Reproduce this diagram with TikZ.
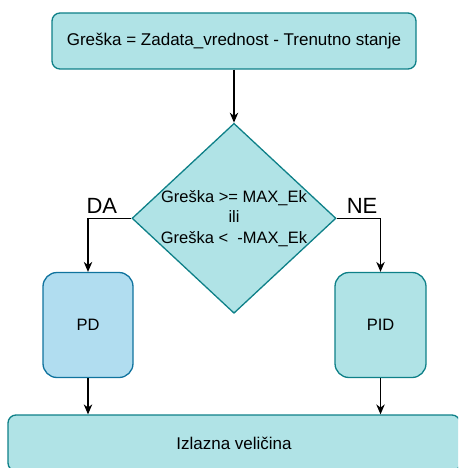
\documentclass[tikz,border=0pt]{standalone}
\usepackage{fontspec}
\setmainfont{Liberation Sans}
\usepackage{xcolor}
\usepackage{tikz}
\usetikzlibrary{shapes,arrows.meta,positioning}
\definecolor{tealfill}{HTML}{B0E3E6}
\definecolor{tealline}{HTML}{0E8088}
\definecolor{bluefill}{HTML}{B1DDF0}
\definecolor{blueline}{HTML}{10739E}
\tikzset{>={Stealth[length=10pt,width=8.5pt]}}
\tikzset{step box/.style={rectangle,rounded corners=8pt,fill=tealfill,draw=tealline,line width=1.3pt,
            minimum width=364pt,minimum height=56pt,font=\fontsize{17}{20}\selectfont},
         cond node/.style={diamond,fill=tealfill,draw=tealline,line width=1.3pt,inner sep=-4pt,
            minimum width=204pt,minimum height=190pt,align=center,font=\fontsize{16.5}{20.5}\selectfont},
         ctrl box/.style={rectangle,rounded corners=14pt,fill=tealfill,draw=tealline,line width=1.3pt,
            minimum width=91pt,minimum height=105pt,font=\fontsize{16.5}{20}\selectfont},
         link/.style={draw,line width=1.2pt,->},
         branch/.style={font=\fontsize{22}{24}\selectfont,inner sep=1pt}
            }
\begin{document}
\begin{tikzpicture}[x=1pt,y=1pt]

    \useasboundingbox (0,0) rectangle (458,-468);
    \clip (0,0) rectangle (458,-468);

    \node[step box] (err) at (234,-41) {Greška = Zadata\_vrednost - Trenutno stanje};
    \node[cond node] (cond) [below = 53pt of err] {Greška >= MAX\_Ek\\ili\\Greška <~~-MAX\_Ek};
    \node[ctrl box,fill=bluefill,draw=blueline,minimum width=90pt] (pd) at (88,-325) {PD};
    \node[ctrl box] (pid) at (380.5,-325) {PID};
    \node[step box,minimum width=452pt] (out) at (234,-443) {Izlazna veličina};

    \path[link] (err) -- (cond);
    \path[link] (cond.west) -| node[branch,pos=0.34,above,yshift=3pt] {DA} (pd.north);
    \path[link] (cond.east) -| node[branch,pos=0.29,above,yshift=3pt] {NE} (pid.north);
    \path[link] (pd.south) -- (pd.south |- out.north);
    \path[link] (pid.south) -- (pid.south |- out.north);

\end{tikzpicture}
\end{document}
